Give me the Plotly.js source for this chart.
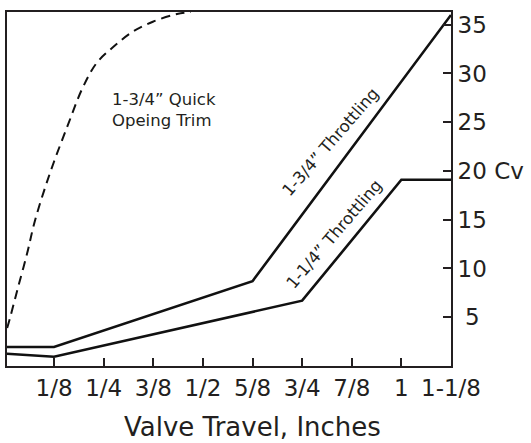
<!DOCTYPE html>
<html>
<head>
<meta charset="utf-8">
<script src="https://cdn.plot.ly/plotly-3.0.1.min.js"></script>
<style>html,body{margin:0;padding:0;background:#fff;}#chart{width:531px;height:443px;}</style>
</head>
<body>
<div id="chart"></div>
<script>
// Valve travel in inches
const xTickVals = [0.125, 0.25, 0.375, 0.5, 0.625, 0.75, 0.875, 1.0, 1.125];
const xTickText = ["1/8", "1/4", "3/8", "1/2", "5/8", "3/4", "7/8", "1", "1-1/8"];
const yTickVals = [5, 10, 15, 20, 25, 30, 35];
const yTickText = ["\u20085", "10", "15", "20 Cv", "25", "30", "35"];

// 1-3/4" Throttling
const throttle134X = [0, 0.125, 0.625, 1.125];
const throttle134Y = [1.95, 1.95, 8.7, 36.0];

// 1-1/4" Throttling
const throttle114X = [0, 0.125, 0.75, 1.0, 1.125];
const throttle114Y = [1.27, 0.95, 6.7, 19.1, 19.1];

// 1-3/4" Quick Opening Trim (dashed)
const quickX = [0.007, 0.014, 0.034, 0.057, 0.077, 0.115, 0.158, 0.198, 0.233, 0.274, 0.324, 0.374, 0.435, 0.47];
const quickY = [3.9, 4.9, 8.0, 11.5, 14.9, 19.8, 24.5, 28.6, 31.1, 32.7, 34.3, 35.3, 36.1, 36.3];

const FONT = "DejaVu Sans, sans-serif";

const traces = [
  {x: throttle134X, y: throttle134Y, mode: "lines", line: {color: "#111", width: 2.6}, hoverinfo: "skip"},
  {x: throttle114X, y: throttle114Y, mode: "lines", line: {color: "#111", width: 2.6}, hoverinfo: "skip"},
  {x: quickX, y: quickY, mode: "lines", line: {color: "#111", width: 2, dash: "9px,6px", shape: "spline"}, hoverinfo: "skip"}
];

const layout = {
  width: 531, height: 443,
  margin: {l: 7, r: 80, t: 12, b: 77},
  paper_bgcolor: "#fff", plot_bgcolor: "#fff",
  showlegend: false,
  font: {family: FONT, color: "#231f20"},
  xaxis: {
    range: [0.0066, 1.125],
    tickvals: xTickVals, ticktext: xTickText,
    ticks: "inside", ticklen: 8, tickwidth: 2, tickcolor: "#231f20",
    showline: true, linecolor: "#231f20", linewidth: 2, mirror: true,
    showgrid: false, zeroline: false,
    tickfont: {family: FONT, size: 23, color: "#231f20"}
  },
  yaxis: {
    range: [0, 36.3], side: "right",
    tickvals: yTickVals, ticktext: yTickText,
    ticks: "inside", ticklen: 8, tickwidth: 2, tickcolor: "#231f20",
    showline: true, linecolor: "#231f20", linewidth: 2, mirror: true,
    showgrid: false, zeroline: false,
    tickfont: {family: FONT, size: 23, color: "#231f20"}
  },
  annotations: [
    {text: "Valve Travel, Inches", xref: "paper", yref: "paper", x: 0.554, y: -0.171,
     xanchor: "center", yanchor: "middle", showarrow: false, font: {family: FONT, size: 26, color: "#231f20"}},
    {text: "1-3/4\u201d Quick<br>Opeing Trim", xref: "paper", yref: "paper", x: 0.232, y: 0.722,
     xanchor: "left", yanchor: "middle", align: "left", showarrow: false, font: {family: FONT, size: 16.5, color: "#231f20"}},
    {text: "1-3/4\u201d Throttling", xref: "paper", yref: "paper", x: 0.7275, y: 0.632, textangle: -49,
     xanchor: "center", yanchor: "middle", showarrow: false, font: {family: FONT, size: 16.5, color: "#231f20"}},
    {text: "1-1/4\u201d Throttling", xref: "paper", yref: "paper", x: 0.7365, y: 0.371, textangle: -49.5,
     xanchor: "center", yanchor: "middle", showarrow: false, font: {family: FONT, size: 16.5, color: "#231f20"}}
  ]
};

Plotly.newPlot("chart", traces, layout, {staticPlot: true, displayModeBar: false});
</script>
</body>
</html>
